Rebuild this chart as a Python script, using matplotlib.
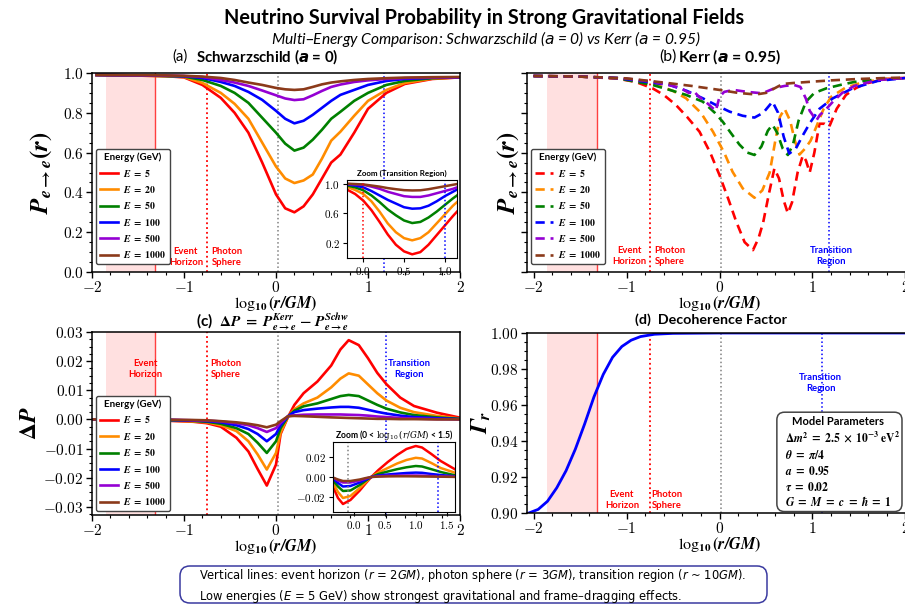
import numpy as np
import matplotlib.pyplot as plt
from matplotlib.patches import FancyBboxPatch
from matplotlib.ticker import FuncFormatter, AutoMinorLocator

plt.rcParams['mathtext.fontset'] = 'cm'
plt.rcParams['font.family'] = ['DejaVu Sans']
SANS = ['Lato', 'DejaVu Sans']

# ---------------- data ----------------
energies = [5, 20, 50, 100, 500, 1000]
colors = ['#ff0000', '#ff8c00', '#008000', '#0000ff', '#9400d3', '#8b3a1a']

# (a) Schwarzschild survival probability
schw_x = [-1.95, -1.5, -1.2, -1.0, -0.8, -0.6, -0.45, -0.3, -0.15, 0.0, 0.1, 0.2,
          0.3, 0.4, 0.5, 0.6, 0.7, 0.85, 1.0, 1.2, 1.4, 1.7, 2.0]
schw_E5 = [0.990, 0.987, 0.984, 0.978, 0.94, 0.875, 0.80, 0.70, 0.55, 0.39, 0.32, 0.30,
           0.33, 0.39, 0.47, 0.55, 0.59, 0.70, 0.82, 0.90, 0.945, 0.97, 0.978]
schw_E20 = [0.990, 0.987, 0.984, 0.98, 0.95, 0.90, 0.845, 0.77, 0.65, 0.53, 0.47, 0.447,
            0.46, 0.49, 0.57, 0.66, 0.705, 0.785, 0.86, 0.915, 0.95, 0.972, 0.978]
schw_E50 = [0.990, 0.988, 0.985, 0.982, 0.965, 0.935, 0.90, 0.85, 0.775, 0.70, 0.645, 0.61,
            0.625, 0.665, 0.715, 0.77, 0.805, 0.86, 0.90, 0.94, 0.96, 0.974, 0.978]
schw_E100 = [0.990, 0.988, 0.986, 0.984, 0.975, 0.955, 0.935, 0.905, 0.865, 0.81, 0.77, 0.747,
             0.76, 0.79, 0.825, 0.86, 0.89, 0.915, 0.94, 0.96, 0.97, 0.976, 0.978]
schw_E500 = [0.990, 0.988, 0.987, 0.985, 0.98, 0.965, 0.952, 0.935, 0.912, 0.888, 0.872, 0.864,
             0.868, 0.888, 0.91, 0.93, 0.942, 0.955, 0.963, 0.97, 0.974, 0.977, 0.978]
schw_E1000 = [0.990, 0.989, 0.988, 0.986, 0.982, 0.975, 0.965, 0.952, 0.94, 0.925, 0.918, 0.915,
              0.918, 0.93, 0.943, 0.952, 0.958, 0.965, 0.97, 0.974, 0.977, 0.979, 0.98]

# (a) inset: transition region zoom
zoom_a_x = [-0.2, -0.1, 0.0, 0.1, 0.2, 0.3, 0.4, 0.5, 0.6, 0.7, 0.8, 0.9, 1.0, 1.1, 1.15]
zoom_a_E5 = [0.92, 0.86, 0.77, 0.64, 0.48, 0.31, 0.17, 0.08, 0.04, 0.07, 0.17, 0.30, 0.43, 0.56, 0.62]
zoom_a_E20 = [0.955, 0.915, 0.86, 0.76, 0.62, 0.46, 0.34, 0.26, 0.23, 0.26, 0.34, 0.46, 0.58, 0.70, 0.75]
zoom_a_E50 = [0.975, 0.95, 0.91, 0.84, 0.75, 0.65, 0.57, 0.50, 0.465, 0.48, 0.54, 0.62, 0.71, 0.80, 0.84]
zoom_a_E100 = [0.99, 0.975, 0.95, 0.90, 0.84, 0.78, 0.73, 0.68, 0.66, 0.665, 0.70, 0.76, 0.83, 0.89, 0.92]
zoom_a_E500 = [0.995, 0.99, 0.985, 0.96, 0.93, 0.89, 0.86, 0.83, 0.82, 0.82, 0.84, 0.87, 0.90, 0.93, 0.95]
zoom_a_E1000 = [1.0, 0.995, 0.99, 0.975, 0.96, 0.94, 0.925, 0.912, 0.908, 0.91, 0.925, 0.945, 0.965, 0.985, 0.995]

# (b) Kerr survival probability (each curve has its own sample points)
kerr_x_E5 = [-2.0, -1.5, -1.1, -0.9, -0.72, -0.6, -0.47, -0.35, -0.215, -0.1, 0.0, 0.1, 0.18,
             0.27, 0.36, 0.42, 0.47, 0.53, 0.59, 0.64, 0.69, 0.735, 0.78, 0.84, 0.896, 0.93,
             0.97, 1.02, 1.075, 1.13, 1.18, 1.26, 1.36, 1.47, 1.58, 1.79, 2.0]
kerr_E5 = [0.985, 0.982, 0.972, 0.955, 0.923, 0.89, 0.84, 0.78, 0.705, 0.60, 0.487, 0.36, 0.253,
           0.15, 0.11, 0.17, 0.25, 0.39, 0.52, 0.47, 0.36, 0.295, 0.35, 0.50, 0.585, 0.56,
           0.50, 0.60, 0.745, 0.745, 0.73, 0.82, 0.89, 0.925, 0.948, 0.97, 0.975]
kerr_x_E20 = [-2.0, -1.5, -1.1, -0.72, -0.5, -0.36, -0.2, -0.07, 0.05, 0.14, 0.25, 0.376, 0.46,
              0.54, 0.6, 0.65, 0.7, 0.76, 0.81, 0.86, 0.92, 0.98, 1.05, 1.12, 1.2, 1.35, 1.55,
              1.8, 2.0]
kerr_E20 = [0.985, 0.982, 0.974, 0.948, 0.91, 0.873, 0.80, 0.705, 0.60, 0.504, 0.42, 0.373, 0.41,
            0.50, 0.66, 0.78, 0.82, 0.76, 0.66, 0.59, 0.62, 0.66, 0.74, 0.82, 0.88, 0.925, 0.955,
            0.97, 0.975]
kerr_x_E50 = [-2.0, -1.5, -1.1, -0.72, -0.5, -0.36, -0.18, -0.05, 0.035, 0.12, 0.215, 0.3, 0.376,
              0.45, 0.52, 0.57, 0.62, 0.68, 0.735, 0.79, 0.85, 0.93, 1.02, 1.15, 1.3, 1.45, 1.7, 2.0]
kerr_E50 = [0.985, 0.982, 0.974, 0.94, 0.91, 0.89, 0.856, 0.80, 0.755, 0.70, 0.64, 0.60, 0.588,
            0.63, 0.71, 0.74, 0.70, 0.62, 0.588, 0.64, 0.76, 0.856, 0.90, 0.923, 0.94, 0.955,
            0.968, 0.975]
kerr_x_E100 = [-2.0, -1.5, -1.1, -0.54, -0.35, -0.18, 0.0, 0.108, 0.25, 0.376, 0.47, 0.57, 0.63,
               0.69, 0.75, 0.82, 0.9, 0.97, 1.075, 1.22, 1.43, 1.7, 2.0]
kerr_E100 = [0.985, 0.982, 0.975, 0.94, 0.91, 0.873, 0.83, 0.806, 0.785, 0.776, 0.80, 0.856, 0.80,
             0.68, 0.595, 0.62, 0.69, 0.747, 0.82, 0.873, 0.923, 0.96, 0.975]
kerr_x_E500 = [-2.0, -1.5, -1.0, -0.7, -0.5, -0.4, -0.33, -0.28, -0.22, -0.16, -0.1, -0.04, 0.0,
               0.05, 0.15, 0.3, 0.46, 0.6, 0.7, 0.8, 0.87, 0.93, 0.97, 1.0, 1.04, 1.08, 1.13,
               1.22, 1.32, 1.45, 1.7, 2.0]
kerr_E500 = [0.985, 0.982, 0.972, 0.955, 0.935, 0.92, 0.90, 0.91, 0.88, 0.86, 0.835, 0.81, 0.88,
             0.905, 0.915, 0.905, 0.898, 0.925, 0.935, 0.94, 0.93, 0.87, 0.81, 0.79, 0.76, 0.79,
             0.81, 0.856, 0.90, 0.935, 0.965, 0.975]
kerr_x_E1000 = [-2.0, -1.5, -1.0, -0.6, -0.3, 0.0, 0.2, 0.39, 0.5, 0.6, 0.68, 0.8, 0.95, 1.2,
                1.5, 1.8, 2.0]
kerr_E1000 = [0.985, 0.982, 0.973, 0.952, 0.935, 0.915, 0.90, 0.892, 0.90, 0.925, 0.945, 0.95,
              0.955, 0.963, 0.97, 0.975, 0.977]

# (c) Delta P = P_kerr - P_schw
dp_x = [-2.0, -1.5, -1.15, -0.9, -0.75, -0.6, -0.43, -0.3, -0.2, -0.1, 0.0, 0.05, 0.13, 0.2,
        0.3, 0.45, 0.6, 0.7, 0.79, 0.9, 1.0, 1.1, 1.2, 1.35, 1.5, 1.75, 2.0]
dp_E5 = [0.0, 0.0, -0.0005, -0.0008, -0.0013, -0.0025, -0.0063, -0.011, -0.017, -0.0227, -0.0155,
         -0.005, 0.0008, 0.005, 0.009, 0.013, 0.0185, 0.024, 0.0272, 0.0255, 0.021, 0.016,
         0.0121, 0.0075, 0.0046, 0.0023, 0.0006]
dp_E20 = [0.0, 0.0, -0.0004, -0.0007, -0.001, -0.002, -0.004, -0.0075, -0.012, -0.0172, -0.0115,
          -0.0045, 0.0009, 0.0035, 0.0055, 0.0075, 0.011, 0.014, 0.0158, 0.015, 0.012, 0.009,
          0.0065, 0.004, 0.0025, 0.0012, 0.0003]
dp_E50 = [0.0, 0.0, -0.0003, -0.0005, -0.0008, -0.0015, -0.003, -0.005, -0.008, -0.0115, -0.0075,
          -0.003, 0.001, 0.003, 0.0045, 0.0055, 0.007, 0.008, 0.0084, 0.008, 0.0065, 0.005,
          0.0037, 0.0024, 0.0015, 0.0007, 0.0002]
dp_E100 = [0.0, 0.0, -0.0002, -0.0004, -0.0006, -0.001, -0.002, -0.0033, -0.005, -0.0075, -0.005,
           -0.002, 0.0011, 0.0025, 0.0032, 0.0037, 0.0041, 0.0043, 0.0043, 0.004, 0.0033, 0.0026,
           0.002, 0.0013, 0.0008, 0.0004, 0.0001]
dp_E500 = [0.0, 0.0, -0.0001, -0.0003, -0.0004, -0.0007, -0.0013, -0.002, -0.003, -0.0043, -0.003,
           -0.0012, 0.0011, 0.0014, 0.0016, 0.0017, 0.0017, 0.0017, 0.0016, 0.0015, 0.0013, 0.001,
           0.0008, 0.0005, 0.0003, 0.0001, 0.0]
dp_E1000 = [0.0, 0.0, -0.0001, -0.0002, -0.0003, -0.0006, -0.001, -0.0015, -0.002, -0.0027, -0.0018,
            -0.0006, 0.0011, 0.0012, 0.0011, 0.0009, 0.0007, 0.0006, 0.0005, 0.0004, 0.0003, 0.0002,
            0.0002, 0.0001, 0.0001, 0.0, 0.0]

# (c) inset
zoom_c_x = [-0.32, -0.25, -0.17, -0.05, 0.1, 0.2, 0.285, 0.4, 0.55, 0.7, 0.85, 1.0, 1.1, 1.25, 1.4, 1.63]
zoom_c_E5 = [-0.011, -0.021, -0.027, -0.023, -0.0135, -0.006, 0.0, 0.007, 0.015, 0.022, 0.028,
             0.031, 0.0295, 0.023, 0.016, 0.0077]
zoom_c_E20 = [-0.007, -0.015, -0.021, -0.019, -0.011, -0.005, 0.0, 0.0045, 0.009, 0.0135, 0.017,
              0.0192, 0.0185, 0.014, 0.009, 0.0043]
zoom_c_E50 = [-0.004, -0.0095, -0.014, -0.0135, -0.008, -0.0035, 0.0, 0.003, 0.0055, 0.0078,
              0.0097, 0.011, 0.0105, 0.0078, 0.005, 0.0017]
zoom_c_E100 = [-0.002, -0.006, -0.0095, -0.009, -0.0055, -0.0025, 0.0, 0.0015, 0.0025, 0.0033,
               0.004, 0.0044, 0.0042, 0.003, 0.002, 0.0007]
zoom_c_E500 = [-0.001, -0.0035, -0.0055, -0.0055, -0.0035, -0.0015, 0.0, 0.0008, 0.0012, 0.0014,
               0.0015, 0.0015, 0.0014, 0.001, 0.0007, 0.0002]
zoom_c_E1000 = [-0.0008, -0.0025, -0.004, -0.004, -0.0025, -0.001, 0.0, 0.0004, 0.0006, 0.0007,
                0.0007, 0.0006, 0.0005, 0.0004, 0.0003, 0.0001]

# (d) decoherence factor
gamma_x = [-2.05, -1.95, -1.85, -1.75, -1.65, -1.55, -1.45, -1.35, -1.25, -1.15, -1.05, -0.95,
           -0.85, -0.7, -0.5, 0.0, 1.0, 2.0]
gamma_r = [0.900, 0.902, 0.9065, 0.914, 0.9235, 0.9355, 0.9495, 0.9645, 0.977, 0.9865, 0.9925,
           0.996, 0.998, 0.9993, 0.9998, 1.0, 1.0, 1.0]

params_text = [r'$\mathbf{\Delta}\mathbfit{m}^{\mathbf{2}}\ \mathbf{=\ 2.5\ \times\ 10^{-3}\ eV^{2}}$',
               r'$\mathbfit{\theta}\ \mathbf{=}\ \mathbfit{\pi}\mathbf{/4}$',
               r'$\mathbfit{a}\ \mathbf{=\ 0.95}$',
               r'$\mathbfit{\tau}\ \mathbf{=\ 0.02}$',
               r'$\mathbfit{G}\ \mathbf{=}\ \mathbfit{M}\ \mathbf{=}\ \mathbfit{c}\ \mathbf{=}\ \mathbfit{\hbar}\ \mathbf{=\ 1}$']

schw_curves = [schw_E5, schw_E20, schw_E50, schw_E100, schw_E500, schw_E1000]
zoom_a_curves = [zoom_a_E5, zoom_a_E20, zoom_a_E50, zoom_a_E100, zoom_a_E500, zoom_a_E1000]
kerr_xs = [kerr_x_E5, kerr_x_E20, kerr_x_E50, kerr_x_E100, kerr_x_E500, kerr_x_E1000]
kerr_curves = [kerr_E5, kerr_E20, kerr_E50, kerr_E100, kerr_E500, kerr_E1000]
dp_curves = [dp_E5, dp_E20, dp_E50, dp_E100, dp_E500, dp_E1000]
zoom_c_curves = [zoom_c_E5, zoom_c_E20, zoom_c_E50, zoom_c_E100, zoom_c_E500, zoom_c_E1000]

EH, PS, ORIG = -1.32, -0.75, 0.02
PLAB = r'$\mathbfit{P}_{\mathbfit{e}\mathbf{\rightarrow}\mathbfit{e}}\mathbf{(}\mathbfit{r}\mathbf{)}$'


def bold_fmt(fmt):
    def f(v, pos):
        if abs(v) < 1e-12:
            v = 0.0
        return r'$\mathbf{' + (fmt % v) + '}$'
    return FuncFormatter(f)


def guides(ax, tr):
    ax.axvspan(-1.85, EH, color='red', alpha=0.12, lw=0)
    ax.axvline(EH, color='red', lw=1.0, alpha=0.75)
    ax.axvline(PS, color='red', ls=':', lw=1.3)
    ax.axvline(ORIG, color='gray', ls=':', lw=1.1)
    ax.axvline(tr, color='blue', ls=':', lw=1.1)


def note(ax, x, y, s, c):
    ax.text(x, y, s, color=c, fontsize=6.8, fontweight='bold', ha='center', va='center',
            linespacing=1.3, family=SANS)


def style(ax, yfmt, labels=True):
    ax.xaxis.set_major_formatter(bold_fmt('%d'))
    ax.yaxis.set_major_formatter(bold_fmt(yfmt))
    ax.xaxis.set_minor_locator(AutoMinorLocator(5))
    ax.yaxis.set_minor_locator(AutoMinorLocator(4))
    ax.tick_params(labelsize=11, width=1.0, length=4, pad=2)
    ax.tick_params(which='minor', length=2, width=0.8)
    if not labels:
        ax.set_yticklabels([])
    for s in ax.spines.values():
        s.set_linewidth(1.1)
    ax.set_xlabel(r'$\mathbf{\log_{10}(}\mathbfit{r/GM}\mathbf{)}$', fontsize=11.5, labelpad=-1,
                  math_fontfamily='stix')


def legend(ax, anchor):
    leg = ax.legend(title='Energy (GeV)', loc='lower left', bbox_to_anchor=anchor,
                    fontsize=7.0, title_fontproperties={'weight': 'bold', 'size': 7, 'family': SANS},
                    framealpha=1, edgecolor='#444444', fancybox=True, handlelength=1.9,
                    labelspacing=0.55, borderpad=0.4, handletextpad=0.5, borderaxespad=0.4)
    leg.get_frame().set_linewidth(1.0)
    for t in leg.get_texts():
        t.set_math_fontfamily('stix')
    return leg


def elabel(e):
    return r'$\mathbfit{E}\ \mathbf{=\ ' + str(e) + '}$'


def ptitle(tag, x_tag, x_txt, y, txt, size=10.8):
    fig.text(x_tag / W, 1 - y / H, tag, ha='left', va='center', fontsize=size, family=SANS)
    fig.text(x_txt / W, 1 - y / H, txt, ha='left', va='center', fontsize=size,
             fontweight='bold', family=SANS, math_fontfamily='dejavusans')


fig = plt.figure(figsize=(9.05, 6.04), dpi=100)
W, H = 905.0, 604.0


def rect(l, t, r, b):
    return [l / W, 1 - b / H, (r - l) / W, (b - t) / H]


fig.text(484 / W, 0.970, 'Neutrino Survival Probability in Strong Gravitational Fields',
         ha='center', va='center', fontsize=14.3, fontweight='bold', family=SANS)
fig.text(486 / W, 0.935, r'Multi–Energy Comparison: Schwarzschild ($a$ = 0) vs Kerr ($a$ = 0.95)',
         ha='center', va='center', fontsize=11.2, style='italic', family=SANS,
         math_fontfamily='dejavusans')

# ---- (a) ----
ax = fig.add_axes(rect(92, 73, 460, 272))
guides(ax, 1.17)
for c, e, y in zip(colors, energies, schw_curves):
    ax.plot(schw_x, y, color=c, lw=1.9, label=elabel(e))
ax.set_xlim(-2.0, 2.0)
ax.set_ylim(0, 1.0)
ax.set_xticks([-2, -1, 0, 1, 2])
ax.set_yticks([0, 0.2, 0.4, 0.6, 0.8, 1.0])
style(ax, '%.1f')
ax.set_ylabel(PLAB, fontsize=18, math_fontfamily='stix', labelpad=6)
legend(ax, (0.0, 0.02))
note(ax, -0.98, 0.075, 'Event\nHorizon', 'red')
note(ax, -0.53, 0.075, 'Photon\nSphere', 'red')
ptitle('(a)', 172, 196, 57, r'Schwarzschild ($\mathbfit{a}$ = 0)')

axi = fig.add_axes(rect(347, 180, 457, 258))
for c, y in zip(colors, zoom_a_curves):
    axi.plot(zoom_a_x, y, color=c, lw=1.8)
axi.axvline(0.0, color='red', ls=':', lw=1.1)
axi.axvline(1.0, color='blue', ls=':', lw=1.1)
axi.set_xlim(-0.2, 1.15)
axi.set_ylim(-0.01, 1.05)
axi.set_xticks([0.0, 0.5, 1.0])
axi.set_yticks([0.2, 0.6, 1.0])
axi.xaxis.set_major_formatter(bold_fmt('%.1f'))
axi.yaxis.set_major_formatter(bold_fmt('%.1f'))
axi.tick_params(labelsize=8, length=3, pad=2)
axi.set_title('Zoom (Transition Region)', fontsize=5.8, fontweight='bold', pad=3, family=SANS)

# ---- (b) ----
ax = fig.add_axes(rect(527, 73, 912, 272))
guides(ax, 1.18)
for c, e, xs, y in zip(colors, energies, kerr_xs, kerr_curves):
    ax.plot(xs, y, color=c, lw=1.9, ls=(0, (3.5, 2.2)), label=elabel(e))
ax.set_xlim(-2.07, 2.07)
ax.set_ylim(0, 1.0)
ax.set_xticks([-2, -1, 0, 1, 2])
ax.set_yticks([0, 0.2, 0.4, 0.6, 0.8, 1.0])
style(ax, '%.1f', labels=False)
ax.set_ylabel(PLAB, fontsize=18, math_fontfamily='stix', labelpad=-2)
legend(ax, (0.0, 0.02))
note(ax, -0.97, 0.08, 'Event\nHorizon', 'red')
note(ax, -0.53, 0.08, 'Photon\nSphere', 'red')
note(ax, 1.2, 0.08, 'Transition\nRegion', 'blue')
ptitle('(b)', 659, 678, 57, r'Kerr ($\mathbfit{a}$ = 0.95)', size=11.3)

# ---- (c) ----
ax = fig.add_axes(rect(92, 332, 460, 515))
guides(ax, 1.2)
for c, e, y in zip(colors, energies, dp_curves):
    ax.plot(dp_x, y, color=c, lw=1.9, label=elabel(e))
ax.set_xlim(-2.0, 2.0)
ax.set_ylim(-0.0328, 0.030)
ax.set_xticks([-2, -1, 0, 1, 2])
ax.set_yticks([-0.03, -0.02, -0.01, 0.0, 0.01, 0.02, 0.03])
style(ax, '%.2f')
ax.set_ylabel(r'$\mathbf{\Delta}\mathbfit{P}$', fontsize=17, math_fontfamily='stix', labelpad=2)
legend(ax, (0.0, 0.0))
note(ax, -1.42, 0.0172, 'Event\nHorizon', 'red')
note(ax, -0.55, 0.0172, 'Photon\nSphere', 'red')
note(ax, 1.45, 0.0172, 'Transition\nRegion', 'blue')
fig.text(273 / W, 1 - 322 / H,
         r'(c)  $\mathbf{\Delta}\mathbfit{P}\ \mathbf{=}\ \mathbfit{P}^{\mathbfit{Kerr}}_{\mathbfit{e}\mathbf{\rightarrow}\mathbfit{e}}'
         r'\ \mathbf{-}\ \mathbfit{P}^{\mathbfit{Schw}}_{\mathbfit{e}\mathbf{\rightarrow}\mathbfit{e}}$',
         ha='center', va='center', fontsize=11, fontweight='bold', family=SANS,
         math_fontfamily='stix')

axi = fig.add_axes(rect(333, 442, 455, 512))
for c, y in zip(colors, zoom_c_curves):
    axi.plot(zoom_c_x, y, color=c, lw=1.8)
axi.axvline(-0.09, color='gray', ls=':', lw=1.1)
axi.axvline(1.35, color='blue', ls=':', lw=1.1)
axi.set_xlim(-0.33, 1.63)
axi.set_ylim(-0.035, 0.035)
axi.set_xticks([0.0, 0.5, 1.0, 1.5])
axi.set_yticks([-0.02, 0.0, 0.02])
axi.xaxis.set_major_formatter(bold_fmt('%.1f'))
axi.yaxis.set_major_formatter(bold_fmt('%.2f'))
axi.tick_params(labelsize=8, length=3, pad=2)
axi.set_title(r'Zoom (0 < $\log_{10}(r/GM)$ < 1.5)', fontsize=6.2, fontweight='bold', pad=3,
              family=SANS, math_fontfamily='dejavuserif')

# ---- (d) ----
ax = fig.add_axes(rect(527, 333, 912, 513))
guides(ax, 1.10)
ax.plot(gamma_x, gamma_r, color='#0000ff', lw=2.0)
ax.set_xlim(-2.07, 2.07)
ax.set_ylim(0.9, 1.0)
ax.set_xticks([-2, -1, 0, 1, 2])
ax.set_yticks([0.90, 0.92, 0.94, 0.96, 0.98, 1.00])
style(ax, '%.2f')
ax.set_ylabel(r'$\mathbfit{\Gamma}_{\mathbfit{r}}$', fontsize=17, math_fontfamily='stix', labelpad=-2)
note(ax, -1.05, 0.907, 'Event\nHorizon', 'red')
note(ax, -0.57, 0.907, 'Photon\nSphere', 'red')
note(ax, 1.09, 0.972, 'Transition\nRegion', 'blue')
fig.text(711 / W, 1 - 320 / H, '(d)  Decoherence Factor', ha='center', va='center',
         fontsize=10.3, fontweight='bold', family=SANS)

# model parameter box (axes coordinates of panel d)
ax.add_patch(FancyBboxPatch((0.649, 0.008), 0.325, 0.552,
                            boxstyle='round,pad=0,rounding_size=0.02',
                            mutation_aspect=385 / 180, transform=ax.transAxes,
                            fc='white', ec='#444444', lw=1.1, zorder=5))
ax.text(0.808, 0.506, 'Model Parameters', transform=ax.transAxes, fontsize=8,
        fontweight='bold', family=SANS, ha='center', va='center', zorder=6)
for yy, s in zip([0.422, 0.322, 0.233, 0.144, 0.061], params_text):
    ax.text(0.67, yy, s, transform=ax.transAxes, fontsize=8.3, math_fontfamily='stix',
            ha='left', va='center', zorder=6)

# ---- bottom note ----
fig.patches.append(FancyBboxPatch((180 / W, 1 - 603 / H), 587 / W, 37 / H,
                                  boxstyle='round,pad=0,rounding_size=0.011',
                                  mutation_aspect=W / H, transform=fig.transFigure,
                                  fc='white', ec='#3a3aa0', lw=1.1))
fig.text(199 / W, 1 - 586 / H,
         'Vertical lines: event horizon ($r$ = 2$GM$), photon sphere ($r$ = 3$GM$), transition region ($r$ ~ 10$GM$).\n'
         'Low energies ($E$ = 5 GeV) show strongest gravitational and frame–dragging effects.',
         ha='left', va='center', fontsize=8.3, linespacing=1.35, math_fontfamily='dejavusans')

fig.savefig('out.png', dpi=100)
